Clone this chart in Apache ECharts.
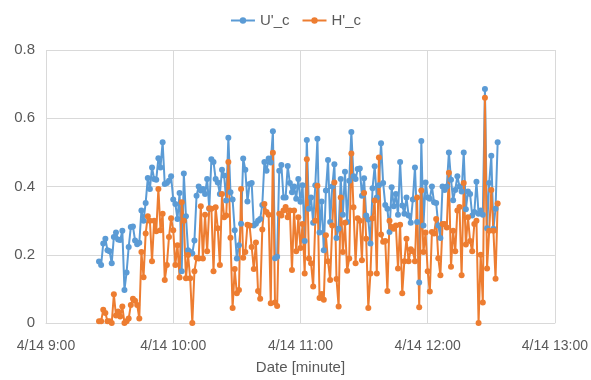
<!DOCTYPE html>
<html>
<head>
<meta charset="utf-8">
<script src="https://cdn.jsdelivr.net/npm/echarts@6/dist/echarts.min.js"></script>
<style>
  html, body { margin: 0; padding: 0; background: #ffffff; }
  #chart { width: 591px; height: 380px; }
</style>
</head>
<body>
<div id="chart"></div>
<script>
// One reading per minute, starting at 9:25 on 4/14
const firstReading = '9:25';
const seriesNames = ["U'_c", "H'_c"];
const xTickLabels = ['4/14 9:00', '4/14 10:00', '4/14 11:00', '4/14 12:00', '4/14 13:00'];
const xAxisTitle = 'Date [minute]';

const uValues = [
  0.18, 0.17, 0.233, 0.247, 0.213, 0.21, 0.175, 0.252, 0.265, 0.245,
  0.243, 0.27, 0.097, 0.148, 0.223, 0.281, 0.283, 0.242, 0.231, 0.235,
  0.33, 0.30, 0.352, 0.425, 0.393, 0.456, 0.422, 0.42, 0.483, 0.456,
  0.53, 0.407, 0.41, 0.417, 0.43, 0.362, 0.349, 0.305, 0.381, 0.152,
  0.438, 0.313, 0.213, 0.208, 0.204, 0.242, 0.373, 0.40, 0.388, 0.393,
  0.378, 0.422, 0.335, 0.48, 0.472, 0.422, 0.412, 0.378, 0.449, 0.432,
  0.359, 0.543, 0.383, 0.362, 0.272, 0.189, 0.228, 0.291, 0.482, 0.449,
  0.356, 0.407, 0.41, 0.286, 0.291, 0.30, 0.305, 0.346, 0.472, 0.446,
  0.482, 0.47, 0.562, 0.19, 0.194, 0.446, 0.463, 0.368, 0.368, 0.46,
  0.41, 0.383, 0.40, 0.364, 0.422, 0.355, 0.404, 0.24, 0.536, 0.335,
  0.368, 0.294, 0.404, 0.54, 0.265, 0.356, 0.213, 0.388, 0.478, 0.296,
  0.40, 0.465, 0.249, 0.276, 0.422, 0.317, 0.443, 0.296, 0.417, 0.56,
  0.43, 0.422, 0.451, 0.453, 0.373, 0.424, 0.315, 0.303, 0.233, 0.395,
  0.459, 0.368, 0.404, 0.527, 0.41, 0.346, 0.335, 0.267, 0.398, 0.342,
  0.378, 0.317, 0.472, 0.344, 0.32, 0.368, 0.315, 0.294, 0.362, 0.456,
  0.296, 0.119, 0.533, 0.286, 0.412, 0.368, 0.364, 0.40, 0.354, 0.352,
  0.286, 0.249, 0.40, 0.39, 0.40, 0.50, 0.42, 0.36, 0.39, 0.43,
  0.40, 0.385, 0.50, 0.333, 0.385, 0.378, 0.315, 0.325, 0.414, 0.32,
  0.33, 0.317, 0.686, 0.278, 0.41, 0.49, 0.276, 0.335, 0.53
];

const hValues = [
  0.005, 0.005, 0.039, 0.029, 0.005, 0.005, 0.0, 0.084, 0.022, 0.034,
  0.019, 0.048, 0.0, 0.005, 0.013, 0.053, 0.071, 0.065, 0.053, 0.013,
  0.208, 0.134, 0.262, 0.313, 0.30, 0.181, 0.30, 0.269, 0.393, 0.272,
  0.32, 0.126, 0.17, 0.252, 0.307, 0.272, 0.17, 0.228, 0.133, 0.354,
  0.30, 0.131, 0.199, 0.131, 0.0, 0.152, 0.191, 0.189, 0.342, 0.189,
  0.317, 0.21, 0.336, 0.335, 0.152, 0.339, 0.278, 0.17, 0.378, 0.31,
  0.315, 0.472, 0.25, 0.044, 0.158, 0.087, 0.097, 0.393, 0.191, 0.208,
  0.288, 0.286, 0.223, 0.158, 0.236, 0.094, 0.071, 0.274, 0.349, 0.325,
  0.317, 0.058, 0.499, 0.06, 0.05, 0.32, 0.315, 0.33, 0.34, 0.31,
  0.33, 0.155, 0.33, 0.21, 0.31, 0.22, 0.29, 0.145, 0.48, 0.189,
  0.175, 0.107, 0.30, 0.402, 0.073, 0.085, 0.068, 0.257, 0.181, 0.126,
  0.286, 0.412, 0.129, 0.048, 0.368, 0.208, 0.294, 0.153, 0.189, 0.497,
  0.339, 0.175, 0.307, 0.30, 0.184, 0.381, 0.247, 0.044, 0.145, 0.307,
  0.359, 0.145, 0.485, 0.259, 0.238, 0.24, 0.094, 0.30, 0.281, 0.276,
  0.286, 0.16, 0.288, 0.087, 0.181, 0.247, 0.181, 0.216, 0.21, 0.181,
  0.368, 0.046, 0.388, 0.208, 0.265, 0.152, 0.092, 0.267, 0.262, 0.305,
  0.19, 0.14, 0.29, 0.29, 0.28, 0.44, 0.165, 0.27, 0.21, 0.33,
  0.34, 0.14, 0.41, 0.23, 0.31, 0.24, 0.21, 0.29, 0.30, 0.0,
  0.20, 0.06, 0.66, 0.16, 0.27, 0.39, 0.27, 0.13, 0.35
];

// Minutes since midnight for each reading
const [h0, m0] = firstReading.split(':').map(Number);
const startMinute = h0 * 60 + m0;
const toPoints = vals => vals.map((v, i) => [startMinute + i, v]);

const textColor = '#595959';
const fontFamily = 'Liberation Sans, Arial, sans-serif';
const axisMin = 9 * 60, axisMax = 13 * 60, axisStep = 60;

const chart = echarts.init(document.getElementById('chart'), null, { renderer: 'canvas' });
chart.setOption({
  animation: false,
  backgroundColor: '#ffffff',
  textStyle: { fontFamily: fontFamily, color: textColor },
  legend: {
    top: 8,
    left: 'center',
    itemWidth: 24,
    itemHeight: 8,
    itemGap: 12,
    textStyle: { color: textColor, fontSize: 15, fontFamily: fontFamily },
    data: seriesNames
  },
  grid: { left: 46, right: 36, top: 50, bottom: 55, containLabel: false },
  xAxis: {
    type: 'value',
    min: axisMin,
    max: axisMax,
    interval: axisStep,
    name: xAxisTitle,
    nameLocation: 'middle',
    nameGap: 37,
    nameTextStyle: { color: textColor, fontSize: 15, fontFamily: fontFamily },
    axisLine: { show: true, lineStyle: { color: '#d9d9d9', width: 1 } },
    axisTick: { show: false },
    axisLabel: {
      color: textColor, fontSize: 14, fontFamily: fontFamily, margin: 16,
      formatter: v => xTickLabels[Math.round((v - axisMin) / axisStep)]
    },
    splitLine: { show: true, lineStyle: { color: '#d9d9d9', width: 1 } }
  },
  yAxis: {
    type: 'value',
    min: 0,
    max: 0.8,
    interval: 0.2,
    axisLine: { show: false },
    axisTick: { show: false },
    axisLabel: { color: textColor, fontSize: 15, fontFamily: fontFamily, margin: 11 },
    splitLine: { show: true, lineStyle: { color: '#d9d9d9', width: 1 } }
  },
  series: [
    {
      name: seriesNames[0],
      type: 'line',
      data: toPoints(uValues),
      symbol: 'circle',
      symbolSize: 6,
      showAllSymbol: true,
      itemStyle: { color: '#5b9bd5' },
      lineStyle: { color: '#5b9bd5', width: 2 }
    },
    {
      name: seriesNames[1],
      type: 'line',
      data: toPoints(hValues),
      symbol: 'circle',
      symbolSize: 6,
      showAllSymbol: true,
      itemStyle: { color: '#ed7d31' },
      lineStyle: { color: '#ed7d31', width: 2 }
    }
  ]
});
</script>
</body>
</html>
